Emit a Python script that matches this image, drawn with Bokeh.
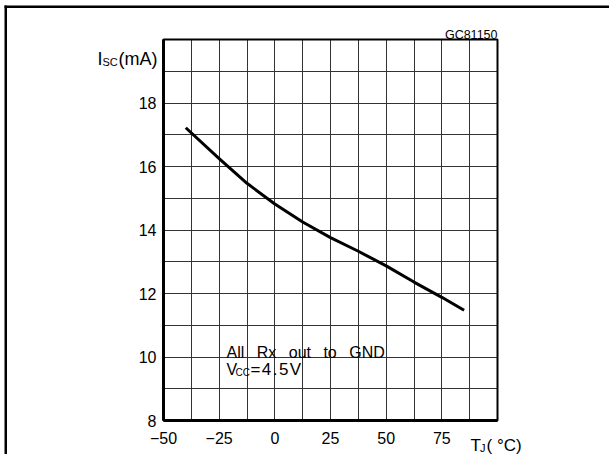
from bokeh.plotting import figure
from bokeh.models import Range1d, FixedTicker, Label, BoxAnnotation, Grid
from bokeh.embed import file_html
from bokeh.resources import INLINE

# ---- data ----
temp_c = [-40, -25, -12.5, 0, 12.5, 25, 37.5, 50, 62.5, 75, 85]
isc_ma = [17.22, 16.25, 15.47, 14.82, 14.25, 13.76, 13.33, 12.87, 12.36, 11.88, 11.47]

x_ticks = [-50, -25, 0, 25, 50, 75, 100]
x_tick_labels = ["\u221250", "\u221225", "0", "25", "50", "75", ""]
y_ticks = [8, 10, 12, 14, 16, 18, 20]
y_tick_labels = ["8", "10", "12", "14", "16", "18", ""]
x_grid = [-50, -37.5, -25, -12.5, 0, 12.5, 25, 37.5, 50, 62.5, 75, 87.5, 100]
y_grid = [8, 9, 10, 11, 12, 13, 14, 15, 16, 17, 18, 19, 20]
X_MIN, X_MAX = -50, 100
Y_MIN, Y_MAX = 8, 20

FONT = "Liberation Sans"

# ---- layout: the grid box sits at pixels (163..497, 39..420) of a 609x454 canvas
W, H = 609, 454
BOX_L, BOX_R, BOX_T, BOX_B = 163, 497, 39, 420
PXX = (BOX_R - BOX_L) / (X_MAX - X_MIN)
PXY = (BOX_B - BOX_T) / (Y_MAX - Y_MIN)
x_lo = X_MIN - BOX_L / PXX
x_hi = X_MAX + (W - BOX_R) / PXX
y_lo = Y_MIN - (H - BOX_B) / PXY
y_hi = Y_MAX + BOX_T / PXY


def px_x(px):
    return X_MIN + (px - BOX_L) / PXX


def px_y(py):
    return Y_MIN + (BOX_B - py) / PXY


p = figure(width=W, height=H, output_backend="svg", toolbar_location=None,
           x_range=Range1d(x_lo, x_hi), y_range=Range1d(y_lo, y_hi),
           min_border_left=0, min_border_right=0, min_border_top=0,
           min_border_bottom=0)
p.background_fill_color = "white"
p.border_fill_color = "white"
p.outline_line_color = None

# grid, limited to the box
grid_props = Grid.properties()
for g, tk in ((p.xgrid, x_grid), (p.ygrid, y_grid)):
    g.ticker = FixedTicker(ticks=tk)
    g.grid_line_color = "#333333"
    g.grid_line_width = 1
    g.grid_line_alpha = 1.0
p.xgrid.bounds = (X_MIN, X_MAX)
p.ygrid.bounds = (Y_MIN, Y_MAX)
if "cross_bounds" in grid_props:
    p.xgrid.cross_bounds = (Y_MIN, Y_MAX)
    p.ygrid.cross_bounds = (X_MIN, X_MAX)

# axes fixed on the box edges
p.xaxis.fixed_location = Y_MIN
p.yaxis.fixed_location = X_MIN
p.xaxis.bounds = (X_MIN, X_MAX)
p.yaxis.bounds = (Y_MIN, Y_MAX)
p.xaxis.ticker = FixedTicker(ticks=x_ticks)
p.yaxis.ticker = FixedTicker(ticks=y_ticks)
p.xaxis.major_label_overrides = {t: l for t, l in zip(x_ticks, x_tick_labels)}
p.yaxis.major_label_overrides = {t: l for t, l in zip(y_ticks, y_tick_labels)}
for ax in (p.xaxis, p.yaxis):
    ax.axis_line_width = 3
    ax.axis_line_color = "black"
    ax.major_tick_in = 0
    ax.major_tick_out = 0
    ax.minor_tick_in = 0
    ax.minor_tick_out = 0
    ax.major_label_text_font = FONT
    ax.major_label_text_font_size = "16px"
    ax.major_label_text_color = "black"
p.xaxis.major_label_standoff = 11
p.yaxis.major_label_standoff = 7

# box outline around the grid
p.add_layout(BoxAnnotation(left=X_MIN, right=X_MAX, bottom=Y_MIN, top=Y_MAX,
                           fill_alpha=0, line_color="black", line_alpha=1.0,
                           line_width=2, level="overlay"))
# page frame: top and left rules as solid strips
p.add_layout(BoxAnnotation(left=px_x(4), right=x_hi, top=px_y(5), bottom=px_y(7.5),
                           fill_color="black", fill_alpha=1.0, line_alpha=0,
                           level="overlay"))
p.add_layout(BoxAnnotation(left=px_x(4), right=px_x(6.5), top=px_y(5), bottom=y_lo,
                           fill_color="black", fill_alpha=1.0, line_alpha=0,
                           level="overlay"))

# curve
p.line(temp_c, isc_ma, line_color="black", line_width=3, line_join="round")


def lab(x, y, text, size, dx=0, dy=0, align="left"):
    p.add_layout(Label(x=x, y=y, x_offset=dx, y_offset=dy, text=text,
                       text_font=FONT, text_font_size=size, text_color="black",
                       text_align=align, text_baseline="alphabetic"))


# y-axis title Isc(mA) at the top-left corner of the box
lab(X_MIN, Y_MAX, "I", "18px", dx=-66, dy=-19)
lab(X_MIN, Y_MAX, "SC", "11px", dx=-61, dy=-22)
lab(X_MIN, Y_MAX, "(mA)", "18px", dx=-6, dy=-19, align="right")

# x-axis title TJ(°C) at the bottom-right corner of the box
lab(X_MAX, Y_MIN, "T", "17px", dx=-27, dy=-25)
lab(X_MAX, Y_MIN, "J", "11px", dx=-17.5, dy=-27)
lab(X_MAX, Y_MIN, "( \u00b0C)", "17px", dx=-11, dy=-25)

# figure code
lab(X_MAX, Y_MAX, "GC81150", "12.5px", dx=0, dy=5, align="right")

# annotation
sep = "\u2002 "
lab(-21.7, 10.15, sep.join(["All", "Rx", "out", "to", "GND"]), "16px")
lab(-21.7, 9.6, "V", "16px")
lab(-21.7, 9.6, "CC", "10px", dx=9, dy=-3)
lab(-21.7, 9.6, "\u200a".join("=4.5V"), "17px", dx=24)

open("out.html", "w").write(file_html(p, INLINE))
